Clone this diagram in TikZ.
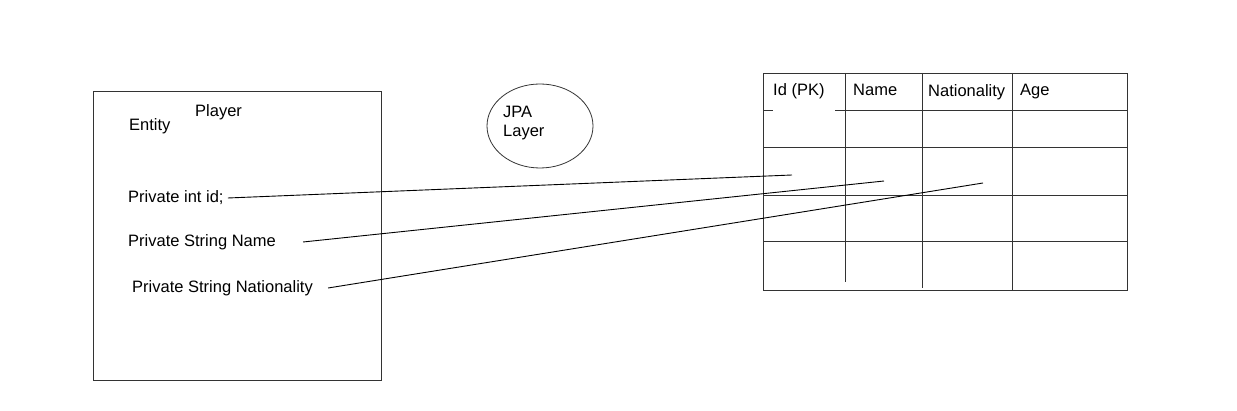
\documentclass[tikz,border=0pt]{standalone}
\usepackage{fontspec}
\setmainfont{Liberation Sans}
\usetikzlibrary{positioning, shapes.geometric}

\tikzset{
  lbl/.style={anchor=west, inner sep=0pt, text height=12pt, text depth=3.5pt, font=\fontsize{16.5}{19}\selectfont},
  grid line/.style={draw=black!80, line width=0.9pt},
  link/.style={draw=black, line width=0.9pt}
}

\begin{document}
\begin{tikzpicture}[x=1pt,y=-1pt]
        \useasboundingbox (0,0) rectangle (1237,411);
        % entity box
        \draw[grid line] (93,91) rectangle (381,380);
        \node[lbl] (ent) at (129,126) {Entity};
        \node[lbl] (plr) at (195,112) {Player};
        \node[lbl] (fid) at (128,198) {Private int id;};
        \node[lbl] (fname) at (128,242) {Private String Name};
        \node[lbl] (fnat) at (132,288) {Private String Nationality};
        % jpa layer
        \node[ellipse, draw=black!80, line width=0.8pt, minimum width=106pt, minimum height=84pt] (jpa) at (540,126) {};
        \node[lbl] (jpa1) at (503,113) {JPA};
        \node[lbl] (jpa2) at (503,132) {Layer};
        % table
        \draw[grid line] (763,73) rectangle (1127,290);
        \draw[grid line] (845,73) -- (845,282);
        \draw[grid line] (922,73) -- (922,288);
        \draw[grid line] (1012,73) -- (1012,290);
        \draw[grid line] (763,110) -- (773,110);
        \draw[grid line] (835,110) -- (1127,110);
        \foreach \y in {147,195,241}
                \draw[grid line] (763,\y) -- (1127,\y);
        \node[lbl] (cid) at (773,91) {Id (PK)};
        \node[lbl] (cname) at (853,91) {Name};
        \node[lbl] (cnat) at (928,92) {Nationality};
        \node[lbl] (cage) at (1020,91) {Age};
        % mappings
        \coordinate (tid) at (792,175);
        \coordinate (tname) at (884,181);
        \coordinate (tnat) at (983,183);
        \path[link] ([xshift=4pt]fid.east) -- (tid);
        \path[link] ([xshift=27pt]fname.east) -- (tname);
        \path[link] ([xshift=15pt]fnat.east) -- (tnat);
\end{tikzpicture}
\end{document}
